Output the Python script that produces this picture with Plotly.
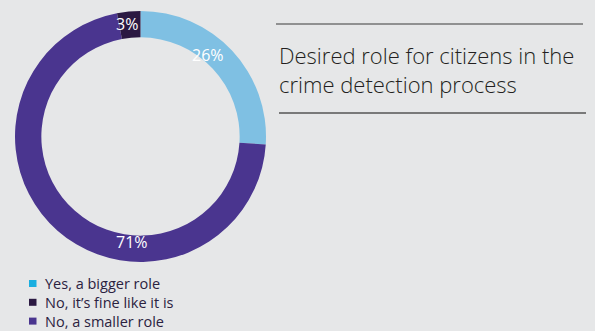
import plotly.graph_objects as go

categories = ["Yes, a bigger role", "No, a smaller role", "No, it’s fine like it is"]
values = [26, 71, 3]
slice_colors = ["#7fc0e3", "#4a358f", "#2b1942"]

legend_labels = ["Yes, a bigger role", "No, it’s fine like it is", "No, a smaller role"]
legend_colors = ["#1aaee0", "#2b1942", "#4a358f"]

label_text = ["26%", "71%", "3%"]
label_pos = [(208, 55), (132, 242), (127, 24)]

title_lines = ["Desired role for citizens in the", "crime detection process"]

W, H = 595, 331
FONT = "Open Sans"

fig = go.Figure()
cx, cy, r = 140.5, 136.5, 125.5
fig.add_trace(go.Pie(
    labels=categories, values=values, sort=False, direction="clockwise",
    rotation=0, hole=0.79,
    marker=dict(colors=slice_colors, line=dict(width=0)),
    textinfo="none", showlegend=False, hoverinfo="label+percent",
    domain=dict(x=[(cx - r) / W, (cx + r) / W], y=[(H - cy - r) / H, (H - cy + r) / H]),
))

for t, (x, y) in zip(label_text, label_pos):
    fig.add_annotation(x=x / W, y=1 - y / H, xref="paper", yref="paper", text=t,
                       showarrow=False, font=dict(family=FONT, size=16, color="white"),
                       xanchor="center", yanchor="middle")

# legend drawn manually
for i, (lab, col) in enumerate(zip(legend_labels, legend_colors)):
    yc = 283.5 + i * 18.8
    fig.add_shape(type="rect", xref="paper", yref="paper",
                  x0=29 / W, x1=36.5 / W, y0=1 - (yc + 3.5) / H, y1=1 - (yc - 3.5) / H,
                  line=dict(width=0), fillcolor=col)
    fig.add_annotation(x=44 / W, y=1 - yc / H, xref="paper", yref="paper", text=lab,
                       showarrow=False, xanchor="left", yanchor="middle", borderpad=0,
                       font=dict(family=FONT, size=14.5, color="#2b2240"))

fig.add_annotation(x=277 / W, y=1 - 69 / H, xref="paper", yref="paper",
                   text="<br>".join(title_lines), showarrow=False, align="left",
                   xanchor="left", yanchor="middle",
                   font=dict(family=FONT, size=22, color="#231f20", weight=300))

fig.add_shape(type="line", xref="paper", yref="paper", x0=276 / W, x1=583 / W,
              y0=1 - 24 / H, y1=1 - 24 / H, line=dict(color="#3a3a3a", width=1))
fig.add_shape(type="line", xref="paper", yref="paper", x0=279 / W, x1=586 / W,
              y0=1 - 113 / H, y1=1 - 113 / H, line=dict(color="#555555", width=1.5))

fig.update_layout(
    width=W, height=H, margin=dict(l=0, r=0, t=0, b=0),
    paper_bgcolor="#e6e7e8", plot_bgcolor="#e6e7e8",
    xaxis=dict(visible=False), yaxis=dict(visible=False),
    showlegend=False,
)

fig.write_html("out.html")
